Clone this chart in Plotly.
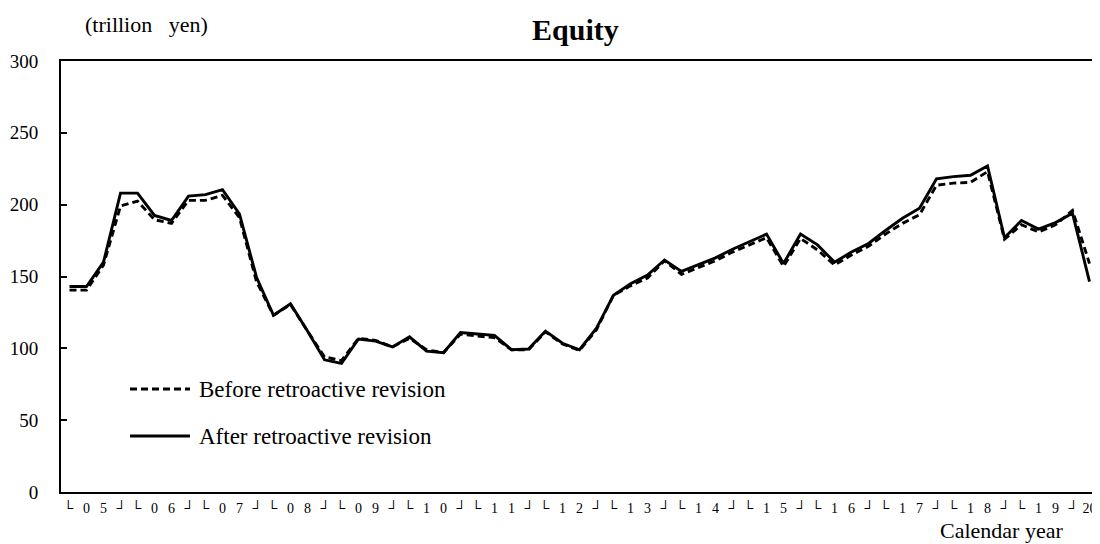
import plotly.graph_objects as go

# ---- data ----
years = list(range(2005, 2021))
periods = [f"{y}Q{q}" for y in years for q in (1, 2, 3, 4)][:61]  # 2005Q1 .. 2020Q1

after_rev = [
    143, 143, 160, 208,        # 2005
    208, 192.5, 189, 206,      # 2006
    207, 210.5, 193.5, 149.5,  # 2007
    123, 131, 112, 92,         # 2008
    89.5, 106.5, 105, 101,     # 2009
    108, 98, 97, 111,          # 2010
    110, 109, 99, 99.5,        # 2011
    112, 103.5, 99, 114,       # 2012
    137, 145, 151, 161.5,      # 2013
    153.5, 158, 163, 169,      # 2014
    174, 179.5, 159, 179.5,    # 2015
    172, 160, 167, 173,        # 2016
    182, 190.5, 197.5, 218,    # 2017
    219.5, 220.5, 227, 177,    # 2018
    189, 183, 187.5, 194,      # 2019
    146.5,                     # 2020
]
before_rev = [
    140.5, 140.5, 158, 199,    # 2005
    202.5, 189.5, 187, 203,    # 2006
    203, 206.5, 191, 146.5,    # 2007
    123, 130.5, 112, 94,       # 2008
    91.5, 107, 105.5, 101,     # 2009
    107, 99, 97, 110,          # 2010
    108.5, 107.5, 99, 99,      # 2011
    111.5, 103, 98.5, 113,     # 2012
    137, 143.5, 149, 161,      # 2013
    151.5, 156, 161, 167,      # 2014
    172, 177, 157, 176.5,      # 2015
    168.5, 158, 165, 171,      # 2016
    179.5, 187, 193, 213.5,    # 2017
    215, 215.5, 223, 176,      # 2018
    186, 181, 186, 196,        # 2019
    159,                       # 2020
]
year_labels = ["0 5", "0 6", "0 7", "0 8", "0 9", "1 0", "1 1", "1 2",
               "1 3", "1 4", "1 5", "1 6", "1 7", "1 8", "1 9"]
last_label = "20"

SERIF = "Liberation Serif, Times New Roman, serif"
sp = "\u2002\u2009"

x_idx = list(range(len(periods)))
tickvals = [4 * k + 1.5 for k in range(len(year_labels))] + [len(periods) - 1]
ticktext = ["\u2514" + sp + lab.replace(" ", sp) + sp + "\u2518" for lab in year_labels] + [last_label]

fig = go.Figure()
fig.add_trace(go.Scatter(
    x=x_idx, y=before_rev, mode="lines", name="Before retroactive revision",
    line=dict(color="black", width=2.9, dash="7px,4px"),
    customdata=periods, hovertemplate="%{customdata}: %{y}<extra>Before</extra>",
))
fig.add_trace(go.Scatter(
    x=x_idx, y=after_rev, mode="lines", name="After retroactive revision",
    line=dict(color="black", width=2.9),
    customdata=periods, hovertemplate="%{customdata}: %{y}<extra>After</extra>",
))

# page body has an 8px margin, so the figure is drawn 8px smaller and offset
fig.update_layout(
    width=1092, height=536,
    margin=dict(l=53, r=2, t=53, b=52),
    paper_bgcolor="white", plot_bgcolor="white",
    showlegend=False,
    font=dict(family=SERIF, color="black", size=19),
    xaxis=dict(
        range=[-0.5, len(periods) - 0.5], automargin=False,
        tickmode="array", tickvals=tickvals, ticktext=ticktext,
        showgrid=False, zeroline=False,
        showline=True, linecolor="black", linewidth=2, mirror=True,
        ticks="", tickfont=dict(size=14, family=SERIF, color="black"), ticklabelstandoff=2,
    ),
    yaxis=dict(
        range=[0, 300], tickvals=[0, 50, 100, 150, 200, 250, 300], automargin=False,
        showgrid=False, zeroline=False,
        showline=True, linecolor="black", linewidth=2,
        ticks="inside", ticklen=6, tickcolor="black", tickwidth=1.5,
        tickfont=dict(size=19, family=SERIF, color="black"), ticklabelstandoff=17,
    ),
)

# title and unit
fig.add_annotation(text="<b>Equity</b>", xref="paper", yref="paper", x=(575 - 61) / 1037, y=1.0,
                   yshift=32, xanchor="center", yanchor="middle", showarrow=False,
                   font=dict(size=30, family=SERIF))
fig.add_annotation(text="(trillion\u2002 yen)", xref="paper", yref="paper",
                   x=(146 - 61) / 1037, y=1.0, yshift=37, xanchor="center", yanchor="middle",
                   showarrow=False, font=dict(size=22, family=SERIF))
fig.add_annotation(text="Calendar year", xref="paper", yref="paper",
                   x=(1001 - 61) / 1037, y=0.0, yshift=-38, xanchor="center", yanchor="middle",
                   showarrow=False, borderpad=0, font=dict(size=22, family=SERIF))

# custom legend
leg_x0 = (130 - 61) / 1037
leg_x1 = (190 - 61) / 1037
leg_y = [(492 - 389) / 431, (492 - 436) / 431]
fig.add_shape(type="line", xref="paper", yref="paper", x0=leg_x0, x1=leg_x1,
              y0=leg_y[0], y1=leg_y[0], line=dict(color="black", width=2.9, dash="7px,4px"))
fig.add_shape(type="line", xref="paper", yref="paper", x0=leg_x0, x1=leg_x1,
              y0=leg_y[1], y1=leg_y[1], line=dict(color="black", width=2.9))
fig.add_annotation(text="Before retroactive revision", xref="paper", yref="paper",
                   x=(197 - 61) / 1037, y=leg_y[0], xanchor="left", yanchor="middle",
                   showarrow=False, font=dict(size=23, family=SERIF))
fig.add_annotation(text="After retroactive revision", xref="paper", yref="paper",
                   x=(197 - 61) / 1037, y=leg_y[1], xanchor="left", yanchor="middle",
                   showarrow=False, font=dict(size=23, family=SERIF))

fig.write_html("out.html")
